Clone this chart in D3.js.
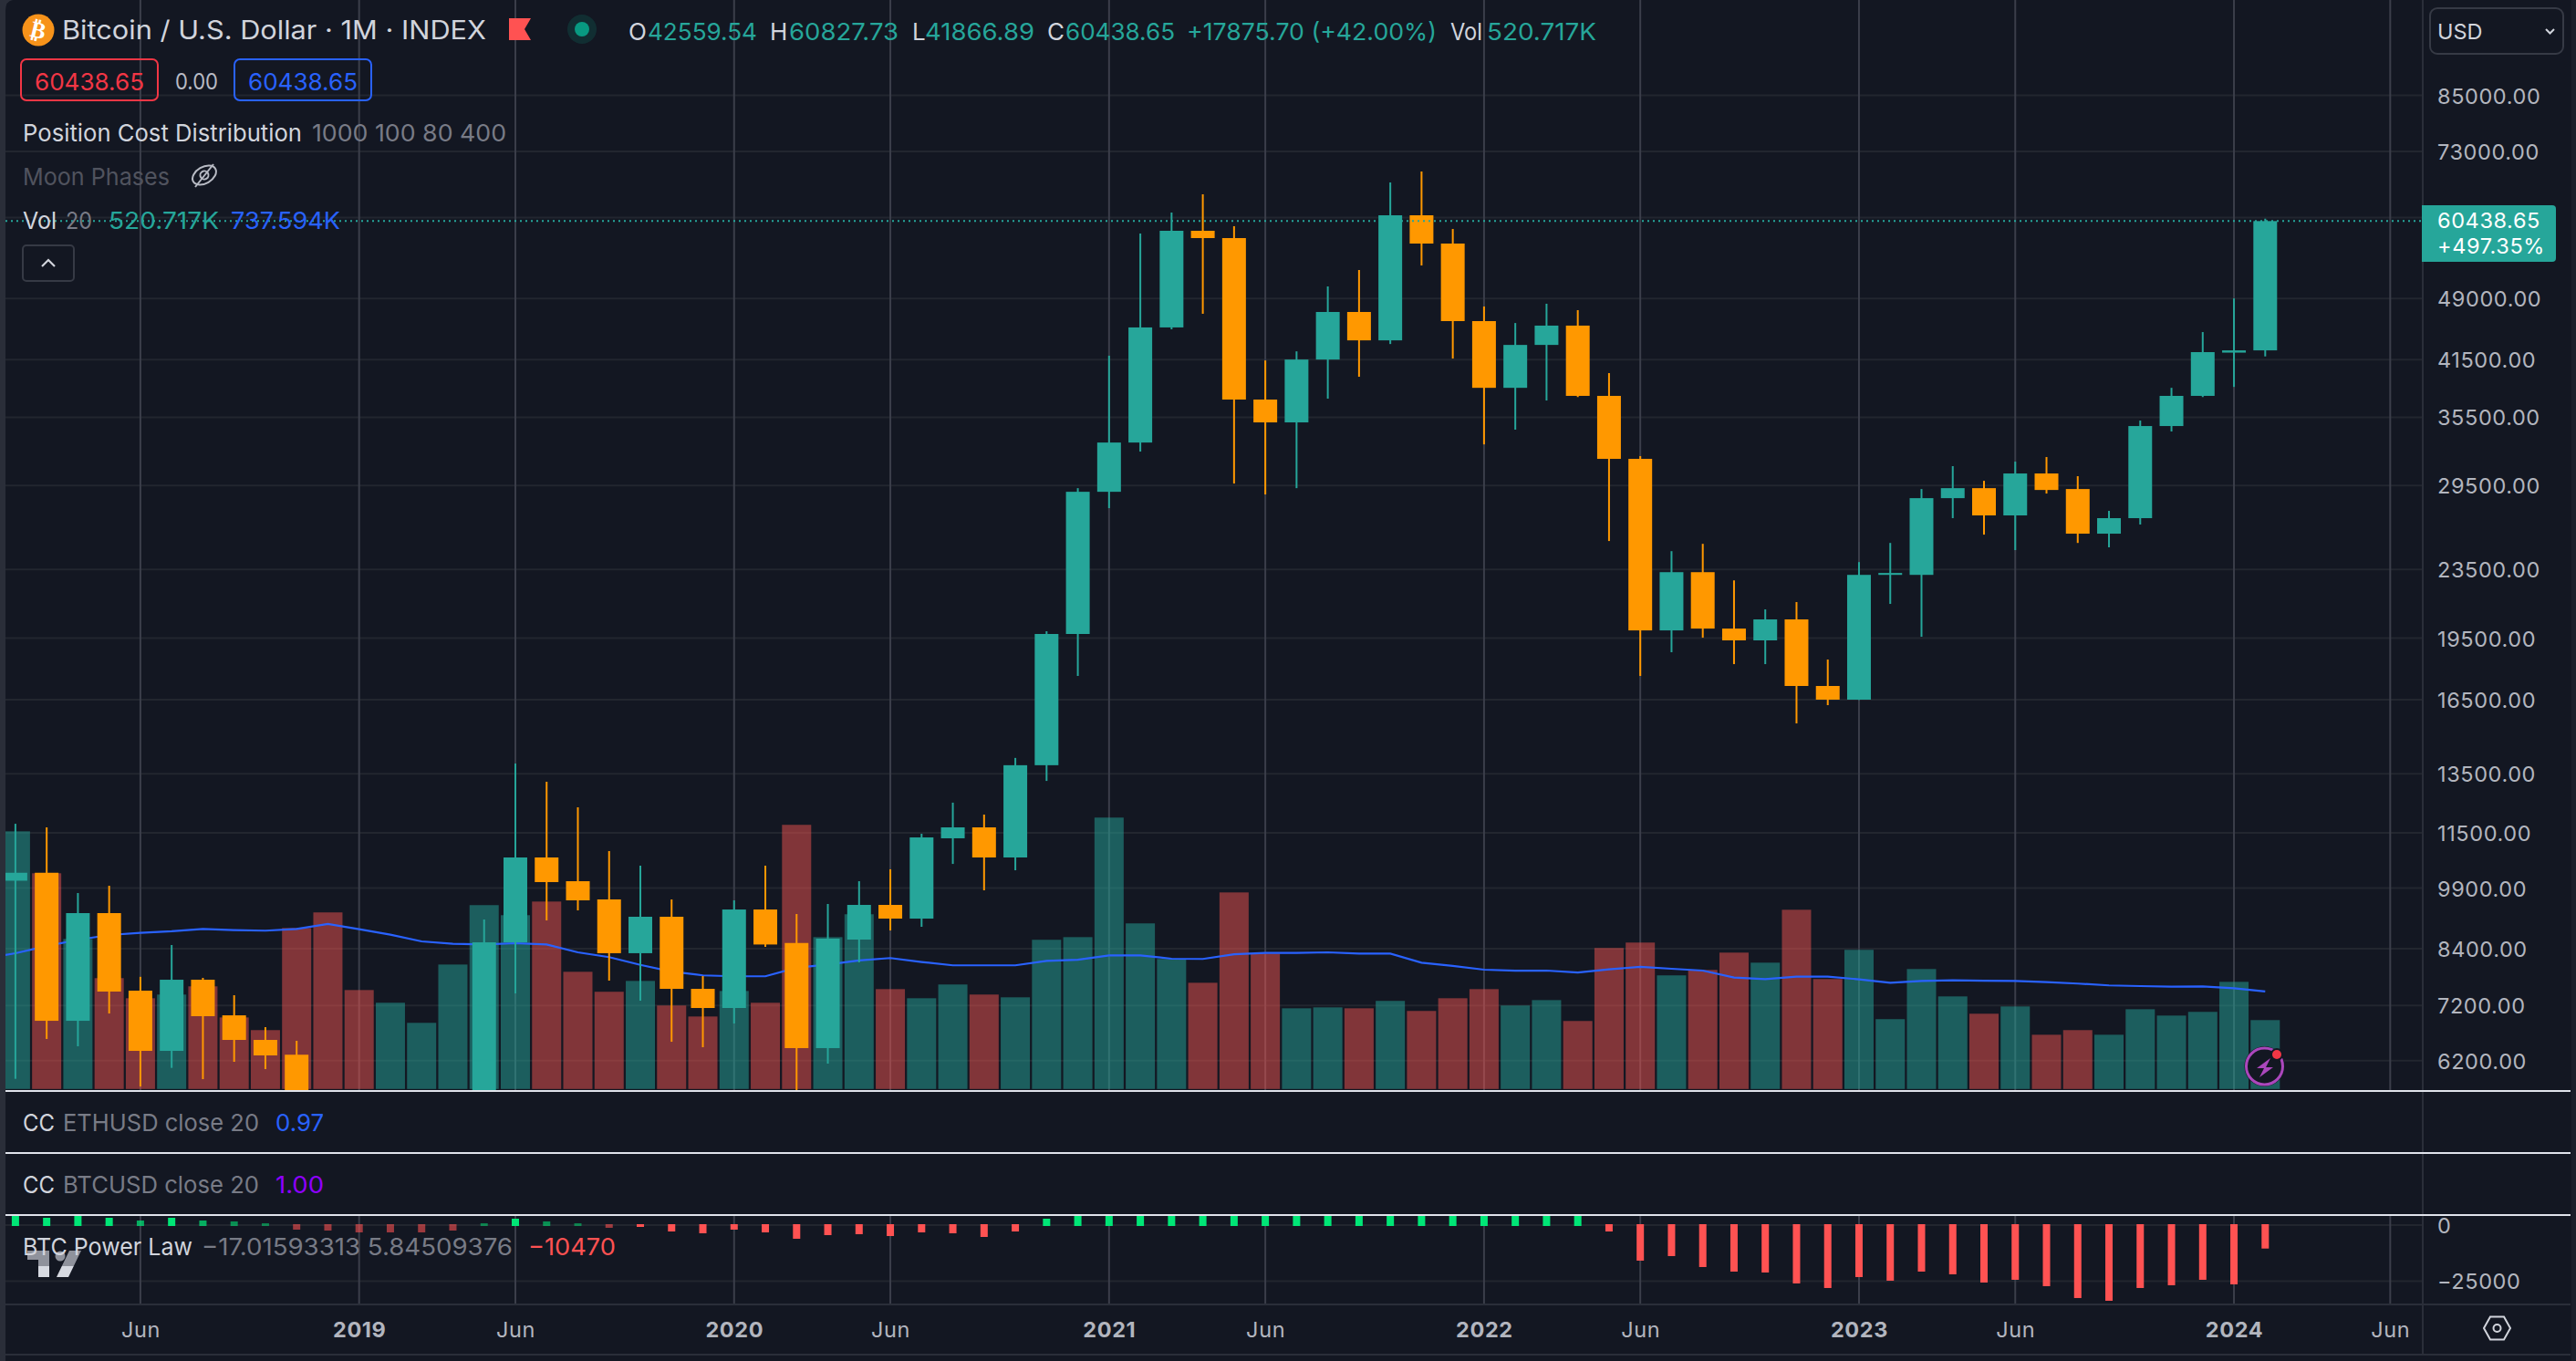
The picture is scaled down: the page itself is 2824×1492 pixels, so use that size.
<!DOCTYPE html>
<html><head><meta charset="utf-8">
<script src="https://cdn.jsdelivr.net/npm/d3@7/dist/d3.min.js"></script>
<style>html,body{margin:0;padding:0;background:#131722;overflow:hidden}svg{display:block}text{font-family:Inter,"Noto Sans",sans-serif}</style>
</head><body>
<script>
const months=["2018-02","2018-03","2018-04","2018-05","2018-06","2018-07","2018-08","2018-09","2018-10","2018-11","2018-12","2019-01","2019-02","2019-03","2019-04","2019-05","2019-06","2019-07","2019-08","2019-09","2019-10","2019-11","2019-12","2020-01","2020-02","2020-03","2020-04","2020-05","2020-06","2020-07","2020-08","2020-09","2020-10","2020-11","2020-12","2021-01","2021-02","2021-03","2021-04","2021-05","2021-06","2021-07","2021-08","2021-09","2021-10","2021-11","2021-12","2022-01","2022-02","2022-03","2022-04","2022-05","2022-06","2022-07","2022-08","2022-09","2022-10","2022-11","2022-12","2023-01","2023-02","2023-03","2023-04","2023-05","2023-06","2023-07","2023-08","2023-09","2023-10","2023-11","2023-12","2024-01","2024-02"];
const opens=[10100,10320,6907,9250,7495,6366,7721,7010,6558,6300,4017,3742,3457,3854,4105,5350,8545,10757,10086,9600,8297,9159,7532,7151,9341,8530,6414,8609,9458,9113,11331,11672,10757,13815,19721,29001,33146,45293,58865,57711,37243,35007,41514,47230,43731,61391,56861,46076,38448,43193,45517,37618,31710,19913,23321,20012,19382,20516,17127,16503,23150,23150,28505,29289,27201,30478,29219,25887,27000,34663,37618,42300,42559.54];
const highs=[11786,11672,9767,9962,7782,8483,7760,7403,6789,6542,4200,4075,4200,4120,5640,9091,13878,13209,12324,10945,10520,9599,7798,9576,10520,9227,9482,10086,10417,11471,12481,12083,14091,19867,29289,41950,58434,61850,64990,59604,41412,42446,50620,52924,67110,69136,59152,47938,45838,48297,47464,40016,31947,24688,25183,22807,21082,21504,18400,23967,25245,29219,31090,29876,31472,31868,30255,27539,35181,38448,44724,49000,60827.73];
const lows=[5901,6575,6446,7045,5780,6079,5896,6180,6059,3550,3100,3400,3400,3700,4090,5320,7440,9069,9319,7702,7294,6525,6429,6857,8441,3850,6150,8093,8825,8913,10570,9840,10390,13239,17600,27743,32343,45062,47000,29658,28793,29289,37335,39620,43298,53578,41626,32980,34325,37150,37500,25377,17600,18768,19524,18173,18173,15474,16259,16490,21397,19573,27000,25821,24760,28864,25245,24946,26537,34154,37500,38544,41866.89];
const closes=[10320,6907,9250,7477,6366,7721,6994,6558,6288,4017,3742,3457,3854,4105,5350,8545,10757,10062,9576,8297,9159,7532,7151,9341,8495,6414,8631,9458,9113,11358,11672,10757,13815,19721,29001,33146,45293,58865,57711,37243,35007,41514,47230,43731,61391,56861,46076,38448,43193,45517,37618,31710,19913,23321,20012,19382,20516,17127,16503,23150,23270,28505,29289,27201,30478,29145,25887,27000,34663,37618,42358,42559,60438.65];
const volumes=[1948,1631,1134,838,686,714,776,541,445,1217,1335,748,652,500,941,1390,1314,1417,886,735,817,631,548,741,652,1997,1148,1321,755,686,790,714,693,1128,1148,2052,1252,983,803,1486,1024,610,617,610,666,590,686,755,631,672,514,1066,1107,859,900,1031,955,1355,831,1052,528,907,700,569,624,410,445,410,603,555,583,810,520.717];
const volumeMA=[1026,1081,1128,1164,1181,1192,1210,1201,1197,1210,1247,1208,1167,1116,1098,1093,1102,1093,1033,997,938,888,859,852,852,917,941,972,990,960,935,935,935,969,977,1010,1010,985,983,1019,1029,1029,1033,1024,1024,955,930,902,895,895,881,905,923,909,895,843,831,850,850,829,803,817,822,819,817,808,797,783,778,774,776,762,737.594];
const volumeMAJan2018=985;
const powerLaw=[4100,3256,4100,3256,2035,3256,2035,1628,814,-2035,-2442,-3256,-3256,-3256,-2442,814,2849,1628,814,-1221,-814,-2849,-3663,-2035,-3256,-6105,-4477,-4070,-4884,-3256,-3663,-5291,-2849,2849,9000,15000,22000,30000,28000,12000,9000,14000,19000,14000,30000,24000,12000,6000,9000,9500,4300,-2849,-15873,-13838,-18722,-20757,-21164,-26048,-28083,-23199,-24827,-20757,-21978,-25641,-24420,-27269,-32560,-33781,-28083,-26862,-24420,-26455,-10470];
const priceTicks=[85000,73000,61000,49000,41500,35500,29500,23500,19500,16500,13500,11500,9900,8400,7200,6200];
const powerTicks=[0,-25000];
const timeTicks=["2018-06","2019-01","2019-06","2020-01","2020-06","2021-01","2021-06","2022-01","2022-06","2023-01","2023-06","2024-01","2024-06"];
const lastClose=60438.65;

const W=2824,H=1492,left=6,axisX=2656;
const FONT='Inter,"Noto Sans",sans-serif';
const monthPos=m=>{const[y,mo]=m.split("-").map(Number);return (y-2018)*12+mo-2;};
const x=d3.scaleLinear().domain([0,72]).range([16.9,2483.3]);
const y=d3.scaleLog().domain([6200,85000]).range([1162.7,104.5]);
const yVol=d3.scaleLinear().domain([0,1000]).range([1193.8,1048.8]);
const yPow=d3.scaleLinear().domain([0,-25000]).range([1343,1404.4]);

const svg=d3.select("body").append("svg").attr("width",W).attr("height",H).attr("viewBox",`0 0 ${W} ${H}`);
const defs=svg.append("defs");
defs.append("clipPath").attr("id","pricePane").append("rect").attr("x",left).attr("y",0).attr("width",axisX-left).attr("height",1195);
defs.append("clipPath").attr("id","powPane").append("rect").attr("x",left).attr("y",1333).attr("width",axisX-left).attr("height",96);
const lg=defs.append("linearGradient").attr("id","tvLogo").attr("x1",0).attr("x2",0).attr("y1",0).attr("y2",1);
[[0,"#8f929c"],[.58,"#8f929c"],[.58,"#d6d9e1"],[1,"#d6d9e1"]].forEach(s=>lg.append("stop").attr("offset",s[0]).attr("stop-color",s[1]));

svg.append("rect").attr("width",W).attr("height",H).attr("fill","#131722");

const GRID="#22262f",VGRID="#3b3e4a",SEP="#e0e3eb",FRAME="#2a2e39";
const priceG=svg.append("g");
priceG.selectAll("line.h").data(priceTicks).join("line").attr("x1",left).attr("x2",axisX).attr("y1",d=>y(d)).attr("y2",d=>y(d)).attr("stroke",GRID).attr("stroke-width",2);
svg.selectAll("line.hp").data(powerTicks).join("line").attr("x1",left).attr("x2",axisX).attr("y1",d=>yPow(d)).attr("y2",d=>yPow(d)).attr("stroke",GRID).attr("stroke-width",2);
const timePos=timeTicks.map(monthPos);
svg.selectAll("line.v1").data(timePos).join("line").attr("x1",d=>x(d)).attr("x2",d=>x(d)).attr("y1",0).attr("y2",1195).attr("stroke",VGRID).attr("stroke-width",2);
svg.selectAll("line.v2").data(timePos).join("line").attr("x1",d=>x(d)).attr("x2",d=>x(d)).attr("y1",1333).attr("y2",1429).attr("stroke",VGRID).attr("stroke-width",2);

const idx=d3.range(months.length);
const clip=svg.append("g").attr("clip-path","url(#pricePane)");
clip.selectAll("rect.vol").data(idx).join("rect").attr("x",i=>x(i)-16).attr("width",32)
 .attr("y",i=>yVol(volumes[i])).attr("height",i=>yVol(0)-yVol(volumes[i]))
 .attr("fill",i=>closes[i]>=opens[i]?"#26a69a":"#ef5350").attr("fill-opacity",.5);
clip.append("path").datum([-1,...idx]).attr("d",d3.line().x(i=>x(i)).y(i=>yVol(i<0?volumeMAJan2018:volumeMA[i]))).attr("fill","none").attr("stroke","#2962ff").attr("stroke-width",2.2);
svg.append("line").attr("x1",left).attr("x2",axisX).attr("y1",y(lastClose)).attr("y2",y(lastClose)).attr("stroke","#26a69a").attr("stroke-width",2).attr("stroke-dasharray","2 4");
const col=i=>closes[i]>=opens[i]?"#26a69a":"#ff9800";
clip.selectAll("rect.wick").data(idx).join("rect").attr("x",i=>x(i)-1).attr("width",2)
 .attr("y",i=>y(highs[i])).attr("height",i=>y(lows[i])-y(highs[i])).attr("fill",col);
clip.selectAll("rect.body").data(idx).join("rect").attr("x",i=>x(i)-13).attr("width",26)
 .attr("y",i=>Math.min(y(opens[i]),y(closes[i]))).attr("height",i=>Math.max(2,Math.abs(y(opens[i])-y(closes[i])))).attr("fill",col);
const powColor=(v,i)=>v>=0?"#00e676":"#ff5252";
const powOpacity=(v,i)=>v>=0?Math.max(.5,Math.min(1,v/2800)):(i<20?.58:1);
svg.append("g").attr("clip-path","url(#powPane)").selectAll("rect").data(powerLaw).join("rect")
 .attr("x",(v,i)=>x(i)-4).attr("width",8)
 .attr("y",(v,i)=>v>=0?yPow(v):yPow(0)-1).attr("height",v=>Math.abs(yPow(v)-yPow(0))+1)
 .attr("fill",powColor).attr("fill-opacity",powOpacity);

const hline=(yy,c,w,x1=left,x2=2818)=>svg.append("line").attr("x1",x1).attr("x2",x2).attr("y1",yy).attr("y2",yy).attr("stroke",c).attr("stroke-width",w);
svg.append("line").attr("x1",axisX).attr("x2",axisX).attr("y1",0).attr("y2",1485).attr("stroke",FRAME).attr("stroke-width",2);
hline(1430,FRAME,2);hline(1485,FRAME,2);
hline(1196,SEP,2);hline(1264,SEP,2);hline(1332,SEP,2);
svg.append("path").attr("d",`M0 0H14Q6 1 6 12V${H}H0Z`).attr("fill",FRAME);
svg.append("rect").attr("x",2819).attr("y",0).attr("width",5).attr("height",H).attr("fill","#1b1f2a");

const yAxis=d3.axisRight(y).tickValues(priceTicks).tickSize(0).tickPadding(16).tickFormat(d3.format(".2f"));
const yg=svg.append("g").attr("transform",`translate(${axisX},0)`).call(yAxis);
const pAxis=d3.axisRight(yPow).tickValues(powerTicks).tickSize(0).tickPadding(16).tickFormat(d=>d<0?"\u2212"+Math.abs(d):"0");
const pg=svg.append("g").attr("transform",`translate(${axisX},0)`).call(pAxis);
const xAxis=d3.axisBottom(x).tickValues(timePos).tickSize(0).tickPadding(0).tickFormat(d=>{const v=d+1;const yr=2018+Math.floor(v/12),mo=v%12;return mo===0?String(yr):"Jun";});
const xg=svg.append("g").attr("transform","translate(0,1457)").call(xAxis);
[yg,pg,xg].forEach(g=>{g.select(".domain").remove();g.selectAll("text").attr("fill","#b2b5be").style("font-family",FONT).style("font-size","23.5px").style("letter-spacing",".6px");});
yg.selectAll("text").attr("dy",null).attr("dominant-baseline","central");
pg.selectAll("text").attr("dy",null).attr("dominant-baseline","central");
xg.selectAll("text").attr("y",0).attr("dy",null).attr("dominant-baseline","central")
  .style("font-weight",function(){return /^\d/.test(this.textContent)?700:400;});

function T(px,py,s,fill,size,opt={}){
 const t=svg.append("text").attr("x",px).attr("y",py).text(s).attr("fill",fill).style("font-size",size+"px").attr("dominant-baseline","central");
 if(opt.w)t.attr("textLength",opt.w).attr("lengthAdjust","spacingAndGlyphs");
 if(opt.weight)t.style("font-weight",opt.weight);
 if(opt.anchor)t.attr("text-anchor",opt.anchor);
 if(opt.ff)t.style("font-family",opt.ff);
 return t;
}
const TEAL="#26a69a",WHITE="#d1d4dc",GRAY="#787b86",BLUE="#2962ff";
svg.append("path").attr("d","M2655 225H2798Q2802 225 2802 229V283Q2802 287 2798 287H2655Z").attr("fill",TEAL);
T(2672,241.5,"60438.65","#fff",23.5).style("letter-spacing",".6px");
T(2672,269.5,"+497.35%","#fff",23.5).style("letter-spacing",".6px");
svg.append("rect").attr("x",2664).attr("y",9).attr("width",146).attr("height",50).attr("rx",8).attr("fill","none").attr("stroke","#363a45").attr("stroke-width",2);
T(2672,34,"USD",WHITE,23.5);
svg.append("path").attr("d","M2791 32L2795.5 36.5L2800 32").attr("fill","none").attr("stroke",WHITE).attr("stroke-width",2);
svg.append("circle").attr("cx",42).attr("cy",33).attr("r",17.5).attr("fill","#f7931a");
T(42,33,"\u20BF","#fff",25,{anchor:"middle",weight:700,ff:"DejaVu Sans"}).attr("transform","rotate(14 42 33)");
T(68,33,"Bitcoin / U.S. Dollar \u00B7 1M \u00B7 INDEX",WHITE,28,{w:465});
svg.append("path").attr("d","M558 20H582L575 32L582 44H558Z").attr("fill","#ff5252");
svg.append("circle").attr("cx",638).attr("cy",32).attr("r",16).attr("fill","#0d9981").attr("fill-opacity",.18);
svg.append("circle").attr("cx",638).attr("cy",32).attr("r",8).attr("fill","#089981");
[["O",689,WHITE,0],["42559.54",710,TEAL,120],["H",844,WHITE,0],["60827.73",865,TEAL,120],["L",1000,WHITE,0],["41866.89",1014,TEAL,120],["C",1148,WHITE,0],["60438.65",1168,TEAL,120],["+17875.70 (+42.00%)",1301,TEAL,274],["Vol",1590,WHITE,35],["520.717K",1630,TEAL,120]].forEach(d=>T(d[1],34,d[0],d[2],26,d[3]?{w:d[3]}:{}));
[[22,"#f23645"],[256,BLUE]].forEach(d=>{
 svg.append("rect").attr("x",d[0]+1).attr("y",65).attr("width",150).attr("height",45).attr("rx",6).attr("fill","none").attr("stroke",d[1]).attr("stroke-width",2);
 T(d[0]+16,89,"60438.65",d[1],26,{w:120});
});
T(192,89,"0.00","#b8bbc4",24,{w:47});
T(25,145,"Position Cost Distribution",WHITE,26,{w:306});
T(342,145,"1000 100 80 400",GRAY,26,{w:213});
T(25,193,"Moon Phases","#50535e",26,{w:161});
const eye=svg.append("g").attr("fill","none").attr("stroke","#b8bbc4").attr("stroke-width",2).attr("transform","rotate(-30 224 192)");
eye.append("ellipse").attr("cx",224).attr("cy",192).attr("rx",14).attr("ry",9);
eye.append("circle").attr("cx",224).attr("cy",192).attr("r",4.5);
svg.append("path").attr("d","M234 180L214 205").attr("fill","none").attr("stroke","#b8bbc4").attr("stroke-width",2);
T(25,241,"Vol",WHITE,26,{w:37});
T(72,241,"20",GRAY,26,{w:29});
T(119,241,"520.717K",TEAL,26,{w:121});
T(253,241,"737.594K",BLUE,26,{w:120});
svg.append("rect").attr("x",25).attr("y",269).attr("width",56).attr("height",39).attr("rx",4).attr("fill","#131722").attr("stroke","#363a45").attr("stroke-width",2);
svg.append("path").attr("d","M46 292L53 285L60 292").attr("fill","none").attr("stroke",WHITE).attr("stroke-width",2.2);
T(25,1230,"CC",WHITE,26,{w:35});
T(69,1230,"ETHUSD close 20",GRAY,26,{w:215});
T(302,1230,"0.97",BLUE,26,{w:53});
T(25,1298,"CC",WHITE,26,{w:35});
T(69,1298,"BTCUSD close 20",GRAY,26,{w:215});
T(302,1298,"1.00","#8e00ff",26,{w:53});
svg.append("path").attr("d","M30 1371H54V1400H42V1381H30Z M76 1371H89L75 1400H62Z").attr("fill","url(#tvLogo)");
svg.append("circle").attr("cx",66).attr("cy",1377).attr("r",5.5).attr("fill","#8f929c");
T(25,1366,"BTC Power Law",WHITE,26,{w:186});
T(221,1366,"\u221217.01593313 5.84509376",GRAY,26,{w:341});
T(579,1366,"\u221210470","#ff5252",26,{w:96});
svg.append("path").attr("d","M2730 1443.5H2745L2752 1456L2745 1468.5H2730L2723 1456Z").attr("fill","none").attr("stroke",WHITE).attr("stroke-width",2);
svg.append("circle").attr("cx",2737.5).attr("cy",1456).attr("r",4).attr("fill","none").attr("stroke",WHITE).attr("stroke-width",2);
svg.append("circle").attr("cx",2482.5).attr("cy",1169).attr("r",22).attr("fill","#131722");
svg.append("circle").attr("cx",2482.5).attr("cy",1169).attr("r",20).attr("fill","none").attr("stroke","#ab47bc").attr("stroke-width",3);
svg.append("path").attr("d","M2489 1160L2474 1171H2482L2477 1181L2492 1170H2484Z").attr("fill","#ab47bc");
svg.append("circle").attr("cx",2496).attr("cy",1156).attr("r",7).attr("fill","#131722");
svg.append("circle").attr("cx",2496).attr("cy",1156).attr("r",5).attr("fill","#f23645");
</script>
</body></html>
